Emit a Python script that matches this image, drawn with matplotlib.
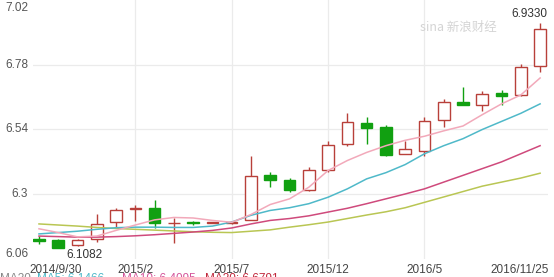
import matplotlib
matplotlib.use("Agg")
import matplotlib.pyplot as plt
import numpy as np

# ---- data (monthly candles, 2014/9 .. 2016/11) ----
opens  = [6.135, 6.131, 6.111, 6.135, 6.197, 6.245, 6.249, 6.192, 6.197, 6.195, 6.193, 6.203, 6.373, 6.353,
          6.314, 6.391, 6.485, 6.565, 6.549, 6.450, 6.460, 6.576, 6.643, 6.632, 6.675, 6.668, 6.776]
closes = [6.125, 6.102, 6.131, 6.188, 6.242, 6.250, 6.193, 6.193, 6.194, 6.196, 6.198, 6.369, 6.351, 6.314,
          6.391, 6.484, 6.567, 6.546, 6.444, 6.469, 6.573, 6.641, 6.632, 6.672, 6.663, 6.770, 6.914]
highs  = [6.145, 6.133, 6.133, 6.225, 6.249, 6.260, 6.279, 6.213, 6.201, 6.198, 6.200, 6.440, 6.381, 6.360,
          6.400, 6.498, 6.600, 6.588, 6.555, 6.499, 6.585, 6.653, 6.699, 6.684, 6.688, 6.782, 6.933]
lows   = [6.115, 6.100, 6.1082, 6.123, 6.178, 6.200, 6.176, 6.120, 6.187, 6.193, 6.190, 6.203, 6.326, 6.310,
          6.312, 6.381, 6.480, 6.486, 6.443, 6.448, 6.440, 6.549, 6.630, 6.610, 6.629, 6.665, 6.752]
ma5  = [6.172, 6.158, 6.142, 6.145, 6.166, 6.186, 6.205, 6.214, 6.212, 6.203, 6.196, 6.225, 6.262, 6.283,
        6.326, 6.388, 6.425, 6.455, 6.480, 6.500, 6.515, 6.535, 6.553, 6.595, 6.635, 6.668, 6.731]
ma10 = [6.153, 6.158, 6.163, 6.170, 6.176, 6.178, 6.178, 6.177, 6.177, 6.182, 6.197, 6.222, 6.240, 6.250,
        6.265, 6.289, 6.320, 6.357, 6.380, 6.410, 6.450, 6.480, 6.506, 6.540, 6.570, 6.600, 6.635]
ma20 = [6.145, 6.143, 6.141, 6.141, 6.143, 6.146, 6.150, 6.155, 6.160, 6.166, 6.175, 6.190, 6.203, 6.210,
        6.220, 6.234, 6.248, 6.265, 6.283, 6.301, 6.320, 6.345, 6.370, 6.395, 6.420, 6.450, 6.480]
ma30 = [6.190, 6.186, 6.182, 6.177, 6.173, 6.170, 6.167, 6.164, 6.161, 6.159, 6.158, 6.163, 6.168, 6.178,
        6.187, 6.197, 6.210, 6.223, 6.235, 6.250, 6.270, 6.290, 6.310, 6.330, 6.345, 6.360, 6.378]

xtick_pos = [0, 5, 10, 15, 20, 26]
xtick_labels = ["2014/9/30", "2015/2", "2015/7", "2015/12", "2016/5", "2016/11/25"]
ytick_vals = [6.06, 6.3, 6.54, 6.78, 7.02]
ytick_labels = ["6.06", "6.3", "6.54", "6.78", "7.02"]
high_label = "6.9330"
low_label = "6.1082"
legend_items = [("MA30", "#888888"), ("MA5: 6.1466", "#4fb9c9"),
                ("MA10: 6.4095", "#d4559a"), ("MA20: 6.6791", "#c0283c")]

# ---- style ----
RED = "#b8403a"
GREEN = "#11a011"
plt.rcParams['font.family'] = ['Liberation Sans', 'DejaVu Sans']

W, H = 554, 277
fig = plt.figure(figsize=(W / 100, H / 100), dpi=100)
ax_left, ax_right, ax_top, ax_bot = 33, 548, 0, 259
ax = fig.add_axes([ax_left / W, (H - ax_bot) / H, (ax_right - ax_left) / W, (ax_bot - ax_top) / H])
ax.set_xlim(-0.31, 26.41)
ax.set_ylim(6.06, 7.02)
for s in ax.spines.values():
    s.set_visible(False)
ax.set_xticks([])
ax.set_yticks([])

# grid
for v in ytick_vals[1:-1]:
    ax.axhline(v, color="#ebebeb", lw=0.9, zorder=0)
for p in xtick_pos[1:-1]:
    ax.axvline(p, color="#ebebeb", lw=0.9, zorder=0)

x = np.arange(len(opens))
o = np.array(opens); c = np.array(closes)
up = c >= o
# wicks
ax.vlines(x[up], np.array(lows)[up], np.array(highs)[up], color=RED, lw=1.0, zorder=2)
ax.vlines(x[~up], np.array(lows)[~up], np.array(highs)[~up], color=GREEN, lw=1.0, zorder=2)
bottoms = np.minimum(o, c)
heights = np.maximum(np.abs(c - o), 0.003)
ax.bar(x[up], heights[up], bottom=bottoms[up], width=0.6, facecolor="white",
       edgecolor=RED, linewidth=1.0, zorder=3)
ax.bar(x[~up], heights[~up], bottom=bottoms[~up], width=0.6, facecolor=GREEN,
       edgecolor=GREEN, linewidth=1.0, zorder=3)

# moving averages
ax.plot(x, ma30, color="#b9c653", lw=1.1, zorder=4)
ax.plot(x, ma20, color="#cf4a7c", lw=1.1, zorder=4)
ax.plot(x, ma10, color="#4fb9c9", lw=1.1, zorder=4)
ax.plot(x, ma5, color="#f2a9ba", lw=1.1, zorder=4)

# high / low labels
ax.annotate(high_label, xy=(26, highs[26]), xytext=(7, 3), textcoords="offset pixels",
            ha="right", va="bottom", fontsize=8.5, color="#333333")
ax.annotate(low_label, xy=(2, lows[2]), xytext=(7, -3), textcoords="offset pixels",
            ha="center", va="top", fontsize=8.5, color="#333333")

# y labels (clamped at top/bottom)
for v, lab in zip(ytick_vals, ytick_labels):
    va = "center"
    if v == ytick_vals[0]:
        va = "bottom"
    elif v == ytick_vals[-1]:
        va = "top"
    off = {"center": 0, "bottom": -1, "top": -2}[va]
    ax.annotate(lab, xy=(0, v), xycoords=("axes fraction", "data"), xytext=(-5, off),
                textcoords="offset pixels", ha="right", va=va, fontsize=8.5, color="#555555")

# x labels
for p, lab in zip(xtick_pos, xtick_labels):
    ha = "center"
    dx = 0
    if p == xtick_pos[0]:
        ha, dx = "left", -10
    elif p == xtick_pos[-1]:
        ha, dx = "right", 9
    ax.annotate(lab, xy=(p, 0), xycoords=("data", "axes fraction"), xytext=(dx, -5),
                textcoords="offset pixels", ha=ha, va="top", fontsize=8.5, color="#444444")

# watermark
fig.text(458 / W, 1 - 27 / H, "sina 新浪财经", fontsize=9, color="#d4d4d4", ha="center", va="center",
         style="italic", family=["Noto Sans CJK SC", "DejaVu Sans"])

# legend line (cut at bottom)
xs = [0, 37, 122, 205]
for (txt, col), xp in zip(legend_items, xs):
    fig.text(xp / W, 1 - 273 / H, txt, fontsize=8.5, color=col, ha="left", va="top")

fig.savefig("out.png", dpi=100)
